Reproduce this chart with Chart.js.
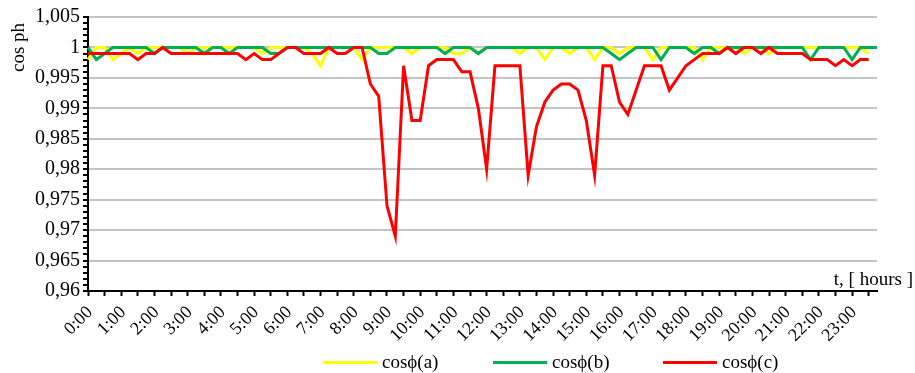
<!DOCTYPE html>
<html>
<head>
<meta charset="utf-8">
<script src="https://cdn.jsdelivr.net/npm/chart.js@4.4.1/dist/chart.umd.min.js"></script>
<style>
  html, body { margin: 0; padding: 0; background: #fff; }
  #wrap { position: relative; width: 915px; height: 373px; }
  #c { position: absolute; left: 0; top: 0; }
  #legend { position: absolute; left: 323px; top: 351px; display: flex; font-family: "Liberation Serif", "Times New Roman", serif; font-size: 19px; color: #000; }
  .item { width: 170px; display: flex; align-items: center; }
  .swatch { width: 54px; height: 3px; margin-right: 5px; }
</style>
</head>
<body>
<div id="wrap">
  <canvas id="c" width="915" height="373"></canvas>
  <div id="legend"></div>
</div>
<script>
// ---- data (15-minute readings, 0:00 .. 23:45) ----
const seriesNames = ["cosϕ(a)", "cosϕ(b)", "cosϕ(c)"];
const seriesColors = ["#FFFF00", "#00B050", "#FF0000"];

const cosA = [
  0.998, 1, 1, 0.998, 0.999, 1, 0.999, 1, 1, 1, 1, 1,
  0.999, 1, 1, 1, 1, 1, 1, 1, 1, 0.999, 1, 1,
  1, 1, 1, 0.999, 0.997, 1, 1, 1, 1, 0.998, 1, 1,
  1, 1, 1, 0.999, 1, 1, 1, 1, 0.999, 0.999, 1, 0.999,
  1, 1, 1, 1, 0.999, 1, 1, 0.998, 1, 1, 0.999, 1,
  1, 0.998, 1, 1, 0.999, 1, 1, 1, 0.998, 1, 1, 1,
  1, 1, 0.998, 1, 1, 1, 1, 0.999, 1, 1, 0.999, 1,
  1, 1, 1, 1, 1, 1, 1, 1, 1, 1, 0.999, null
];

const cosB = [
  1, 0.998, 0.999, 1, 1, 1, 1, 1, 0.999, 1, 1, 1,
  1, 1, 0.999, 1, 1, 0.999, 1, 1, 1, 1, 0.999, 0.999,
  1, 1, 1, 1, 1, 1, 1, 1, 1, 1, 1, 0.999,
  0.999, 1, 1, 1, 1, 1, 1, 0.999, 1, 1, 1, 0.999,
  1, 1, 1, 1, 1, 1, 1, 1, 1, 1, 1, 1,
  1, 1, 1, 0.999, 0.998, 0.999, 1, 1, 1, 0.998, 1, 1,
  1, 0.999, 1, 1, 0.999, 1, 1, 1, 1, 1, 1, 1,
  1, 1, 1, 0.998, 1, 1, 1, 1, 0.998, 1, 1, 1
];

const cosC = [
  0.999, 0.999, 0.999, 0.999, 0.999, 0.999, 0.998, 0.999, 0.999, 1, 0.999, 0.999,
  0.999, 0.999, 0.999, 0.999, 0.999, 0.999, 0.999, 0.998, 0.999, 0.998, 0.998, 0.999,
  1, 1, 0.999, 0.999, 0.999, 1, 0.999, 0.999, 1, 1, 0.994, 0.992,
  0.974, 0.969, 0.997, 0.988, 0.988, 0.997, 0.998, 0.998, 0.998, 0.996, 0.996, 0.990,
  0.980, 0.997, 0.997, 0.997, 0.997, 0.979, 0.987, 0.991, 0.993, 0.994, 0.994, 0.993,
  0.988, 0.979, 0.997, 0.997, 0.991, 0.989, 0.993, 0.997, 0.997, 0.997, 0.993, 0.995,
  0.997, 0.998, 0.999, 0.999, 0.999, 1, 0.999, 1, 1, 0.999, 1, 0.999,
  0.999, 0.999, 0.999, 0.998, 0.998, 0.998, 0.997, 0.998, 0.997, 0.998, 0.998, null
];

// category labels: every 15 minutes
const timeLabels = [];
for (let h = 0; h < 24; h++) {
  for (let m = 0; m < 60; m += 15) {
    timeLabels.push(h + ":" + (m < 10 ? "0" + m : m));
  }
}

const yMin = 0.96, yMax = 1.005, yMinorStep = 0.001;
const yTitle = "cos ph";
const xTitle = "t, [ hours ]";

const FONT = "'Liberation Serif', 'Times New Roman', serif";

const titlesPlugin = {
  id: 'axisTitles',
  afterDraw(chart) {
    const ctx = chart.ctx, a = chart.chartArea;
    ctx.save();
    ctx.font = "19px " + FONT;
    ctx.fillStyle = "#000";
    ctx.textAlign = "right";
    ctx.textBaseline = "alphabetic";
    ctx.fillText(xTitle, 913, a.bottom - 6);
    // rotated y-axis title
    ctx.translate(23.5, a.top + 55);
    ctx.rotate(-Math.PI / 2);
    ctx.textAlign = "left";
    ctx.fillText(yTitle, 0, 0);
    ctx.restore();
  }
};

const isMajorY = v => Math.round(v * 1000) % 5 === 0;

const chart = new Chart(document.getElementById('c'), {
  type: 'line',
  data: {
    labels: timeLabels,
    datasets: [
      { label: seriesNames[0], data: cosA, borderColor: seriesColors[0], backgroundColor: seriesColors[0], borderWidth: 3, pointRadius: 0, tension: 0, order: 3 },
      { label: seriesNames[1], data: cosB, borderColor: seriesColors[1], backgroundColor: seriesColors[1], borderWidth: 3, pointRadius: 0, tension: 0, order: 2 },
      { label: seriesNames[2], data: cosC, borderColor: seriesColors[2], backgroundColor: seriesColors[2], borderWidth: 3, pointRadius: 0, tension: 0, order: 1 }
    ]
  },
  options: {
    responsive: false,
    animation: false,
    layout: { padding: { left: 0, right: 38, top: 17, bottom: 0 } },
    plugins: {
      legend: { display: false },
      tooltip: { enabled: false }
    },
    scales: {
      x: {
        type: 'category',
        offset: false,
        afterFit: s => { s.height = 82; },
        border: { display: true, color: '#000', width: 2 },
        grid: {
          drawOnChartArea: false,
          drawTicks: true,
          tickLength: 5,
          tickWidth: 2,
          tickColor: c => (c.index % 2 === 0 ? '#000' : 'rgba(0,0,0,0)')
        },
        ticks: {
          autoSkip: false,
          maxRotation: 45,
          minRotation: 45,
          padding: 6,
          labelOffset: 2,
          color: '#000',
          font: { family: FONT, size: 18 },
          callback: function (v, i) { return i % 4 === 0 ? timeLabels[i] : ''; }
        }
      },
      y: {
        min: yMin,
        max: yMax,
        afterFit: s => { s.width = 88; },
        border: { display: true, color: '#000', width: 2 },
        grid: {
          color: c => (c.tick && isMajorY(c.tick.value) && c.index !== 0 ? '#c4c4c4' : 'rgba(0,0,0,0)'),
          lineWidth: 2,
          drawTicks: true,
          tickLength: 5,
          tickWidth: 2,
          tickColor: '#000'
        },
        ticks: {
          stepSize: yMinorStep,
          autoSkip: false,
          padding: 3,
          color: '#000',
          font: { family: FONT, size: 20 },
          callback: v => (isMajorY(v) ? String(Number(v.toFixed(3))).replace('.', ',') : '')
        }
      }
    }
  },
  plugins: [titlesPlugin]
});

// HTML legend built from the datasets
const lg = document.getElementById('legend');
chart.data.datasets.forEach(ds => {
  const it = document.createElement('div');
  it.className = 'item';
  const sw = document.createElement('span');
  sw.className = 'swatch';
  sw.style.background = ds.borderColor;
  const tx = document.createElement('span');
  tx.textContent = ds.label;
  it.appendChild(sw); it.appendChild(tx);
  lg.appendChild(it);
});
</script>
</body>
</html>
